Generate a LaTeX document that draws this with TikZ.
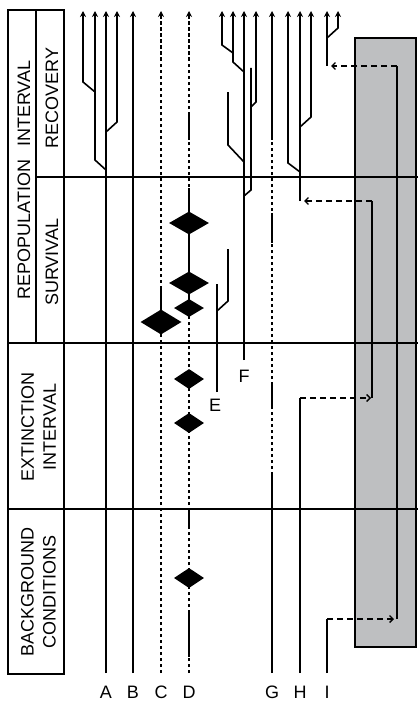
\documentclass[tikz,border=0pt]{standalone}
\usepackage{fontspec}
\setmainfont{Liberation Sans}
\usetikzlibrary{arrows.meta,shapes.geometric}
\definecolor{refgray}{RGB}{190,191,193}
\tikzset{
  lin/.style={line width=1.6pt},
  live/.style={lin,-{Stealth[length=6pt,width=6pt]}},
  lazarus/.style={lin,dash pattern=on 3.5pt off 2.5pt},
  refuge/.style={line width=1.4pt,dash pattern=on 6pt off 4pt,-{Straight Barb[length=3.5pt,width=7pt]}},
  bound/.style={line width=1.8pt},
  gem/.style={diamond,fill=black,inner sep=0pt},
  cell/.style={rotate=90,align=center,font=\fontsize{18}{22}\selectfont},
  letter/.style={font=\fontsize{18}{21}\selectfont}
}
\begin{document}
\begin{tikzpicture}[x=1pt,y=-1pt]
\useasboundingbox (0,0) rectangle (418,701);
% refugium
\filldraw[fill=refgray,line width=1.6pt] (355,38) rectangle (416,647);
% intervals
\draw[bound] (8,10) rectangle (64,674);
\draw[bound] (36,10) -- (36,343);
\draw[bound] (36,177) -- (418,177);
\draw[bound] (8,343) -- (418,343);
\draw[bound] (8,509) -- (418,509);
\node[cell] (repop) at (24,180) {REPOPULATION\hspace{13pt}INTERVAL};
\node[cell] (recov) at (52,98) {RECOVERY};
\node[cell] (surv) at (52,262) {SURVIVAL};
\node[cell] (extinct) at (38.5,427) {EXTINCTION\\INTERVAL};
\node[cell] (backgr) at (38.5,592) {BACKGROUND\\CONDITIONS};
\coordinate (top) at (0,11);

% taxon labels
\node[letter] (labA) at (106,692) {A};
\node[letter] (labB) at (133,692) {B};
\node[letter] (labC) at (161,692) {C};
\node[letter] (labD) at (189,692) {D};
\node[letter] (labG) at (272,692) {G};
\node[letter] (labH) at (300,692) {H};
\node[letter] (labI) at (327,692) {I};
\node[letter] (labE) at (215,405) {E};
\node[letter] (labF) at (244,376) {F};

% A
\coordinate (A0) at (106,673);
\draw[live] (A0) -- (A0 |- top);
\coordinate (a1) at (106,170);
\draw[live] (a1) -- ++(-11,-10) coordinate (a1b) -- (a1b |- top);
\coordinate (a2) at (95,92);
\draw[live] (a2) -- ++(-12,-10) coordinate (a2b) -- (a2b |- top);
\coordinate (a3) at (106,132);
\draw[live] (a3) -- ++(11,-10) coordinate (a3b) -- (a3b |- top);

% B
\coordinate (B0) at (133,673);
\draw[live] (B0) -- (B0 |- top);

% C
\coordinate (C0) at (161,673);
\draw[lazarus,-{Stealth[length=6pt,width=6pt]}] (C0) -- (C0 |- top);
\node[gem,minimum width=41pt,minimum height=25pt] (c1) at (161,322) {};
\draw[lin] (c1.center) -- ++(0,-35);

% D
\coordinate (D0) at (189,673);
\draw[lazarus,-{Stealth[length=6pt,width=6pt]}] (D0) -- (D0 |- top);
\draw[lin] (189,113) -- (189,140);
\draw[lin] (189,188) -- (189,307);
\draw[lin] (189,511) -- (189,527);
\draw[lin] (189,613) -- (189,657);
\node[gem,minimum width=40pt,minimum height=23pt] (d1) at (189,223) {};
\node[gem,minimum width=40pt,minimum height=23pt] (d2) at (189,283) {};
\node[gem,minimum width=30pt,minimum height=18pt] (d3) at (189,308) {};
\node[gem,minimum width=30pt,minimum height=20pt] (d4) at (189,379) {};
\node[gem,minimum width=30pt,minimum height=20pt] (d5) at (189,423) {};
\node[gem,minimum width=30pt,minimum height=20pt] (d6) at (189,578) {};

% E
\coordinate (E0) at (217,392);
\draw[lin] (E0) -- ++(0,-108);
\coordinate (e1) at (217,311);
\draw[lin] (e1) -- ++(11,-10) -- ++(0,-52);

% F
\coordinate (F0) at (244,360);
\draw[live] (F0) -- (F0 |- top);
\coordinate (f1) at (244,196);
\draw[lin] (f1) -- ++(7,-6) -- ++(0,-122);
\coordinate (f2) at (251,107);
\draw[live] (f2) -- ++(5,-5) coordinate (f2b) -- (f2b |- top);
\coordinate (f3) at (244,162);
\draw[lin] (f3) -- ++(-16,-17) -- ++(0,-53);
\coordinate (f4) at (244,72);
\draw[live] (f4) -- ++(-11,-10) coordinate (f4b) -- (f4b |- top);
\coordinate (f5) at (233,53);
\draw[live] (f5) -- ++(-11,-8) coordinate (f5b) -- (f5b |- top);

% G
\coordinate (G0) at (272,673);
\draw[lazarus,-{Stealth[length=6pt,width=6pt]}] (G0) -- (G0 |- top);
\draw[lin] (272,14) -- (272,140);
\draw[lin] (272,213) -- (272,243);
\draw[lin] (272,383) -- (272,407);
\draw[lin] (272,473) -- (G0);

% H
\coordinate (H0) at (300,673);
\coordinate (h1) at (300,398);
\coordinate (r1) at (372,398);
\coordinate (r2) at (372,201);
\coordinate (h2) at (300,201);
\draw[lin] (H0) -- (h1);
\draw[refuge,shorten >=1pt] (h1) -- (r1);
\draw[lin] (r1) -- (r2);
\draw[refuge,shorten >=4pt] (r2) -- (h2);
\draw[live] (h2) -- (h2 |- top);
\coordinate (h3) at (300,172);
\draw[live] (h3) -- ++(-12,-9) coordinate (h3b) -- (h3b |- top);
\coordinate (h4) at (300,127);
\draw[live] (h4) -- ++(11,-10) coordinate (h4b) -- (h4b |- top);

% I
\coordinate (I0) at (327,673);
\coordinate (i1) at (327,619);
\coordinate (r3) at (397,619);
\coordinate (r4) at (397,66);
\coordinate (i2) at (327,66);
\draw[lin] (I0) -- (i1);
\draw[refuge,shorten >=3pt] (i1) -- (r3);
\draw[lin] (r3) -- (r4);
\draw[refuge,shorten >=4pt] (r4) -- (i2);
\draw[live] (i2) -- (i2 |- top);
\coordinate (i3) at (327,38);
\draw[live] (i3) -- ++(11,-10) coordinate (i3b) -- (i3b |- top);
\end{tikzpicture}
\end{document}
